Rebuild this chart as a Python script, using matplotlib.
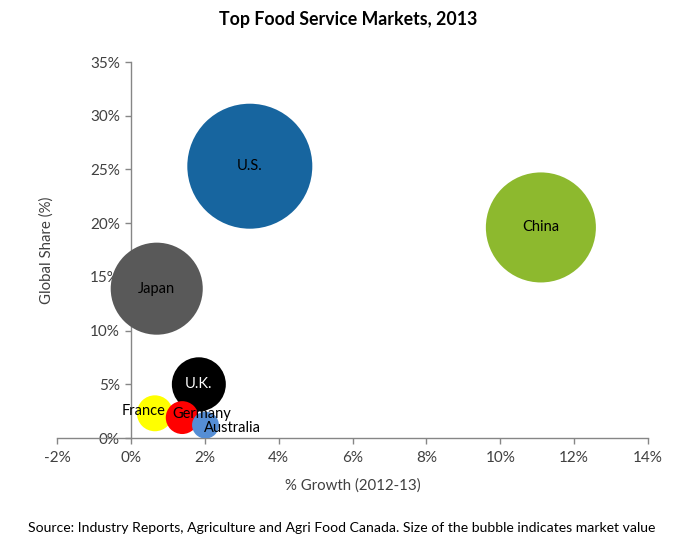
import matplotlib.pyplot as plt

# data
countries = ["U.S.", "China", "Japan", "U.K.", "France", "Germany", "Australia"]
growth = [3.22, 11.1, 0.70, 1.84, 0.65, 1.39, 2.02]       # % growth 2012-13
share = [25.3, 19.6, 13.9, 5.0, 2.3, 1.9, 1.2]            # global share %
market_value = [520, 403, 282, 97, 43, 36, 24]           # relative bubble size
colors = ["#17659F", "#8DB92E", "#595959", "#000000", "#FFFF00", "#FF0000", "#558ED5"]

x_ticks = [-2, 0, 2, 4, 6, 8, 10, 12, 14]
y_ticks = [0, 5, 10, 15, 20, 25, 30, 35]

# label placement (offset in pixels, alignment), Excel-style
label_pos = {
    "U.S.": ((0, 0), "center", "black"),
    "China": ((0, 0), "center", "black"),
    "Japan": ((0, 0), "center", "black"),
    "U.K.": ((0, 0), "center", "white"),
    "France": ((11, 2), "right", "black"),
    "Germany": ((-10, 4), "left", "black"),
    "Australia": ((-2, -3), "left", "black"),
}

plt.rcParams['font.family'] = ['Lato', 'DejaVu Sans']
grey = "#868686"

fig = plt.figure(figsize=(6.97, 5.53), dpi=100)
ax = fig.add_axes([57/697, 1 - 438/553, 591/697, 376/553])

size_scale = 8100 / max(market_value)
ax.scatter(growth, share, s=[v * size_scale for v in market_value],
           c=colors, edgecolors='none', zorder=3)

for name, x, y in zip(countries, growth, share):
    off, ha, col = label_pos[name]
    ax.annotate(name, (x, y), xytext=off, textcoords='offset pixels',
                ha=ha, va='center', fontsize=10.5, color=col, zorder=5)

ax.set_xlim(-2, 14)
ax.set_ylim(0, 35)
ax.set_xticks(x_ticks)
ax.set_xticklabels([f"{t}%" for t in x_ticks])
ax.set_yticks(y_ticks)
ax.set_yticklabels([f"{t}%" for t in y_ticks])

ax.spines['left'].set_position(('data', 0))
ax.spines['left'].set_bounds(0, 35)
for s in ['top', 'right']:
    ax.spines[s].set_visible(False)
for s in ['left', 'bottom']:
    ax.spines[s].set_color(grey)
    ax.spines[s].set_linewidth(1)
ax.tick_params(axis='both', colors=grey, length=4, width=1, labelsize=11,
               labelcolor='#404040')
ax.tick_params(axis='x', pad=5)
ax.tick_params(axis='y', pad=4)

ax.set_xlabel("% Growth (2012-13)", fontsize=10.8, color='#404040', labelpad=10)
fig.text(47/697, 1 - 250/553, "Global Share (%)", rotation=90, ha='center',
         va='center', fontsize=10.8, color='#404040')

fig.text(348/697, 1 - 20/553, "Top Food Service Markets, 2013", ha='center',
         va='center', fontsize=12.8, fontweight='bold', color='black')
fig.text(342/697, 1 - 528/553,
         "Source: Industry Reports, Agriculture and Agri Food Canada. Size of the bubble indicates market value",
         ha='center', va='center', fontsize=10.1, color='black')

fig.savefig("out.png", dpi=100)
